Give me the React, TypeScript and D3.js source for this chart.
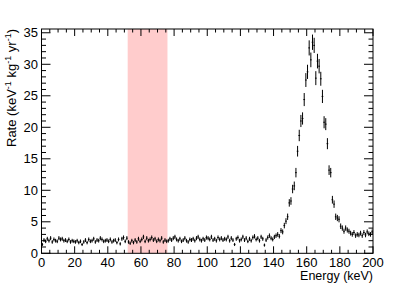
import * as d3 from "d3";

// energy bins: 1 keV wide, bin i covers [i, i+1)
const binWidth = 1;
const rates = [
  1.4, 2.1, 1.9, 2.3, 2.0, 2.4, 1.8, 2.2, 2.0, 1.9,
  2.4, 2.2, 2.3, 2.0, 2.1, 1.9, 2.2, 1.8, 2.0, 1.9,
  1.8, 2.0, 1.7, 1.9, 1.4, 1.8, 2.1, 1.7, 2.2, 1.9,
  2.0, 2.3, 1.8, 2.1, 2.0, 2.4, 2.2, 1.9, 2.0, 2.1,
  1.9, 2.2, 1.8, 2.0, 2.1, 1.7, 2.2, 1.5, 2.3, 2.5,
  1.9, 2.4, 1.8, 1.6, 2.0, 1.7, 2.1, 1.8, 2.3, 1.9,
  2.2, 2.6, 1.9, 2.4, 2.0, 2.2, 2.5, 2.1, 2.3, 1.9,
  2.2, 2.0, 2.4, 1.8, 2.1, 1.9, 2.0, 2.3, 2.1, 2.4,
  2.6, 2.2, 2.0, 2.3, 1.9, 2.1, 2.4, 2.0, 1.8, 2.2,
  2.1, 2.3, 2.0, 2.4, 2.6, 2.2, 2.0, 2.3, 2.1, 2.5,
  2.4, 2.2, 2.6, 2.1, 2.3, 2.0, 2.5, 2.2, 2.4, 2.1,
  2.3, 2.2, 2.6, 2.0, 2.4, 2.1, 1.4, 2.3, 2.5, 2.0,
  2.2, 2.6, 2.1, 2.4, 1.9, 2.3, 2.0, 2.5, 2.7, 2.2,
  2.4, 2.0, 2.6, 2.3, 1.3, 2.1, 2.5, 2.8, 2.4, 2.2,
  2.6, 2.8, 3.0, 2.7, 3.6, 3.4, 4.4, 5.1, 5.8, 8.0,
  8.3, 10.2, 10.7, 12.8, 16.2, 18.7, 21.0, 21.4, 24.4, 27.5,
  28.8, 32.6, 30.7, 33.5, 33.0, 27.8, 30.5, 29.7, 27.7, 24.9,
  20.8, 20.5, 17.4, 13.2, 12.8, 8.5, 7.8, 5.8, 5.6, 5.4,
  4.3, 4.0, 3.5, 4.0, 3.7, 3.5, 3.2, 3.0, 3.3, 2.8,
  3.0, 2.9, 3.2, 2.8, 3.3, 2.9, 3.4, 3.1, 3.0, 3.4,
];
// statistical error ~ sqrt(counts)
const errScale = 0.21;
// analysis window (keV)
const bandLo = 52;
const bandHi = 76;

const xTicks = [0, 20, 40, 60, 80, 100, 120, 140, 160, 180, 200];
const yTicks = [0, 5, 10, 15, 20, 25, 30, 35];

export default function App() {
  const width = 415;
  const height = 283;
  const marginLeft = 41.5;
  const marginRight = 42;
  const marginTop = 29;
  const marginBottom = 29.7;
  const font = "'Liberation Sans', Arial, Helvetica, sans-serif";

  const x = d3.scaleLinear([0, 200], [marginLeft, width - marginRight]);
  const y = d3.scaleLinear([0, 35.6], [height - marginBottom, marginTop]);

  const x0 = x.range()[0], x1 = x.range()[1];
  const y0 = y.range()[0], y1 = y.range()[1];

  const xMinor = d3.range(0, 201, 5).filter((v) => v % 20 !== 0);
  const yMinor = d3.range(0, 36, 1).filter((v) => v % 5 !== 0);

  return (
    <svg width={width} height={height} style={{ position: "absolute", left: 0, top: 0 }} fontFamily={font}>
      <rect width={width} height={height} fill="white" />
      <rect x={x(bandLo)} y={y1} width={x(bandHi) - x(bandLo)} height={y0 - y1} fill="#ffcccc" />

      <g stroke="black" strokeWidth="1" fill="none">
        {rates.map((r, i) => {
          const cx = x(i * binWidth + binWidth / 2);
          const e = errScale * Math.sqrt(r);
          return (
            <g key={i}>
              <line x1={x(i * binWidth)} x2={x((i + 1) * binWidth)} y1={y(r)} y2={y(r)} />
              <line x1={cx} x2={cx} y1={y(r - e)} y2={y(r + e)} />
            </g>
          );
        })}
      </g>

      {/* frame */}
      <rect x={x0} y={y1} width={x1 - x0} height={y0 - y1} fill="none" stroke="black" strokeWidth="1" />

      <g stroke="black" strokeWidth="1">
        {xTicks.map((t) => (
          <g key={"xt" + t}>
            <line x1={x(t)} x2={x(t)} y1={y0} y2={y0 - 7} />
            <line x1={x(t)} x2={x(t)} y1={y1} y2={y1 + 7} />
          </g>
        ))}
        {xMinor.map((t) => (
          <g key={"xm" + t}>
            <line x1={x(t)} x2={x(t)} y1={y0} y2={y0 - 3.5} />
            <line x1={x(t)} x2={x(t)} y1={y1} y2={y1 + 3.5} />
          </g>
        ))}
        {yTicks.map((t) => (
          <g key={"yt" + t}>
            <line x1={x0} x2={x0 + 9} y1={y(t)} y2={y(t)} />
            <line x1={x1} x2={x1 - 9} y1={y(t)} y2={y(t)} />
          </g>
        ))}
        {yMinor.map((t) => (
          <g key={"ym" + t}>
            <line x1={x0} x2={x0 + 4.5} y1={y(t)} y2={y(t)} />
            <line x1={x1} x2={x1 - 4.5} y1={y(t)} y2={y(t)} />
          </g>
        ))}
      </g>

      <g fill="black">
        <g fontSize="13">
          {xTicks.map((t) => (
            <text key={"xl" + t} x={x(t)} y={266.5} textAnchor="middle">{t}</text>
          ))}
          {yTicks.map((t) => (
            <text key={"yl" + t} x={38} y={y(t) + 4.7} textAnchor="end">{t}</text>
          ))}
        </g>
        <text x={x1} y={279.5} fontSize="12.5" textAnchor="end">Energy (keV)</text>
        <text transform={`translate(16,${y1}) rotate(-90)`} fontSize="13" textAnchor="end">
          Rate (keV
          <tspan dy={-5} fontSize="9">-1</tspan>
          <tspan dy={5}> kg</tspan>
          <tspan dy={-5} fontSize="9">-1</tspan>
          <tspan dy={5}> yr</tspan>
          <tspan dy={-5} fontSize="9">-1</tspan>
          <tspan dy={5}>)</tspan>
        </text>
      </g>
    </svg>
  );
}
